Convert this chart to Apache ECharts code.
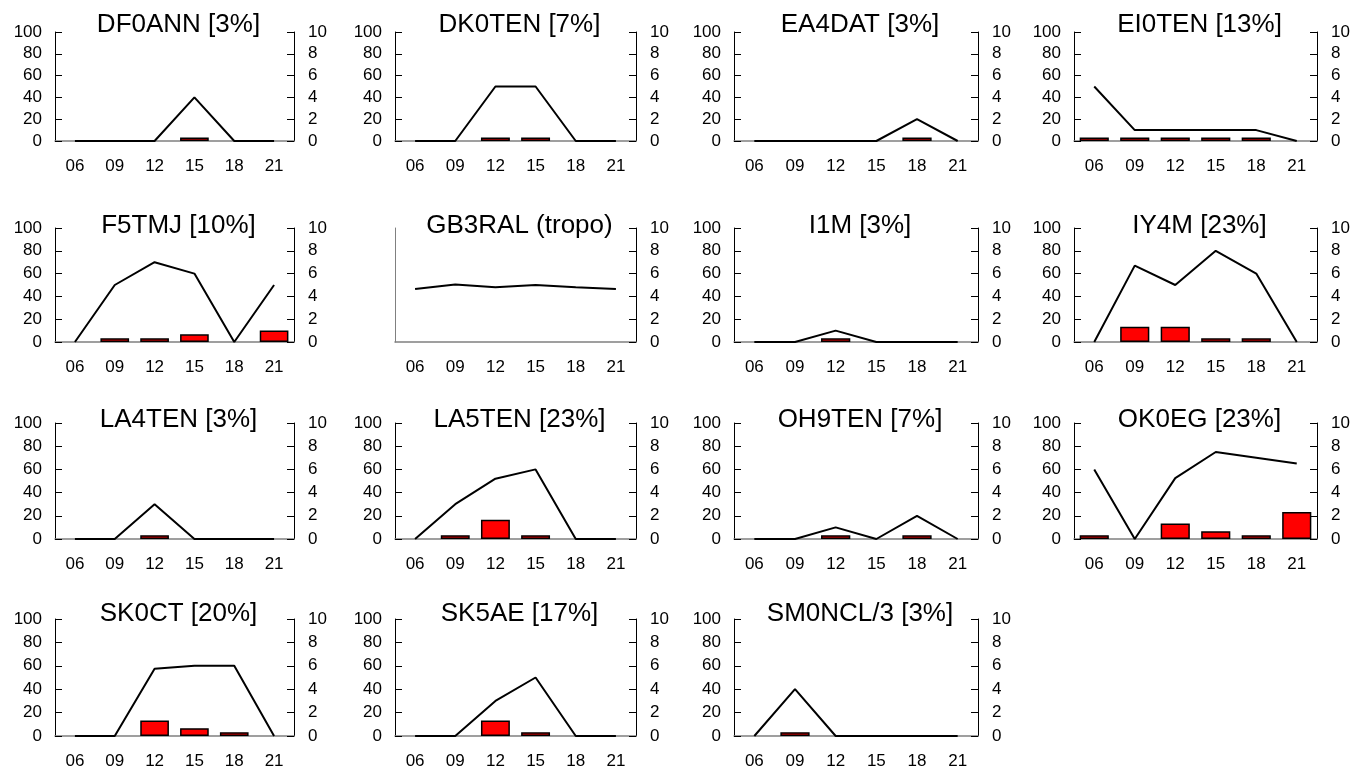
<!DOCTYPE html>
<html lang="en">
<head>
    <meta charset="utf-8">
    <title>Beacon spots by hour</title>
    <script src="https://cdn.jsdelivr.net/npm/echarts@6/dist/echarts.min.js"></script>
    <style>
        html, body { margin: 0; padding: 0; background: #fff; }
        #main { width: 1358px; height: 769px; }
    </style>
</head>
<body>
<div id="main"></div>

<script type="text/javascript">
    // hours on the x axis
    const hours = ['06', '09', '12', '15', '18', '21'];

    const titles = [
        'DF0ANN [3%]', 'DK0TEN [7%]', 'EA4DAT [3%]', 'EI0TEN [13%]',
        'F5TMJ [10%]', 'GB3RAL (tropo)', 'I1M [3%]', 'IY4M [23%]',
        'LA4TEN [3%]', 'LA5TEN [23%]', 'OH9TEN [7%]', 'OK0EG [23%]',
        'SK0CT [20%]', 'SK5AE [17%]', 'SM0NCL/3 [3%]'
    ];

    // red bars, left axis (0-100)
    const barPct = [
        [0, 0, 0, 3.3, 0, 0],
        [0, 0, 3.3, 3.3, 0, 0],
        [0, 0, 0, 0, 3.3, 0],
        [3.3, 3.3, 3.3, 3.3, 3.3, 0],
        [0, 3.3, 3.3, 6.7, 0, 10],
        [0, 0, 0, 0, 0, 0],
        [0, 0, 3.3, 0, 0, 0],
        [0, 13.3, 13.3, 3.3, 3.3, 0],
        [0, 0, 3.3, 0, 0, 0],
        [0, 3.3, 16.7, 3.3, 0, 0],
        [0, 0, 3.3, 0, 3.3, 0],
        [3.3, 0, 13.3, 6.7, 3.3, 23.3],
        [0, 0, 13.3, 6.7, 3.3, 0],
        [0, 0, 13.3, 3.3, 0, 0],
        [0, 3.3, 0, 0, 0, 0]
    ];

    // black line, right axis (0-10)
    const lineVal = [
        [0, 0, 0, 4, 0, 0],
        [0, 0, 5, 5, 0, 0],
        [0, 0, 0, 0, 2, 0],
        [5, 1, 1, 1, 1, 0],
        [0, 5, 7, 6, 0, 5],
        [4.65, 5.05, 4.8, 5.0, 4.8, 4.65],
        [0, 0, 1, 0, 0, 0],
        [0, 6.7, 5, 8, 6, 0],
        [0, 0, 3, 0, 0, 0],
        [0, 3, 5.2, 6, 0, 0],
        [0, 0, 1, 0, 2, 0],
        [6, 0, 5.25, 7.5, 7, 6.5],
        [0, 0, 5.75, 6, 6, 0],
        [0, 0, 3, 5, 0, 0],
        [0, 4, 0, 0, 0, 0]
    ];

    // panels without a left axis scale
    const noLeftScale = ['GB3RAL (tropo)'];

    // layout of the 4 x 4 panel grid
    const colLeft = [55, 395, 734, 1074];
    const colWidth = [239, 241, 244, 243];
    const rowTop = [32, 228, 423, 619];
    const rowHeight = [109, 114, 116, 117];
    const titleTop = [12, 213, 407, 601];

    const tickFont = { color: '#000', fontSize: 17, fontFamily: 'Liberation Sans, Arial, sans-serif' };

    function initChart() {
        let myChart = echarts.init(document.getElementById('main'), null, { renderer: 'canvas' });
        let grids = [], xAxes = [], yAxes = [], series = [], titleList = [];

        titles.forEach(function (name, i) {
            let col = i % 4, row = Math.floor(i / 4);
            let hideLeft = noLeftScale.indexOf(name) >= 0;

            grids.push({
                left: colLeft[col], top: rowTop[row],
                width: colWidth[col], height: rowHeight[row],
                containLabel: false, outerBoundsMode: 'none'
            });
            titleList.push({
                text: name,
                left: colLeft[col] + colWidth[col] / 2 + 4,
                top: titleTop[row],
                textAlign: 'center',
                padding: 0,
                textStyle: { color: '#000', fontSize: 26, fontWeight: 'normal', fontFamily: 'Liberation Sans, Arial, sans-serif' }
            });
            xAxes.push({
                type: 'category', gridIndex: i, data: hours, boundaryGap: true,
                axisLine: { show: true, lineStyle: { color: '#808080', width: 1.5 } },
                axisTick: { show: false },
                axisLabel: Object.assign({ margin: 17, interval: 0 }, tickFont),
                splitLine: { show: false }
            });
            yAxes.push({
                type: 'value', gridIndex: i, position: 'left', min: 0, max: 100, interval: 20,
                axisLine: { show: true, lineStyle: { color: hideLeft ? '#808080' : '#000', width: 1 } },
                axisTick: { show: !hideLeft, inside: true, length: 7, lineStyle: { color: '#000' } },
                axisLabel: Object.assign({ show: !hideLeft, margin: 13 }, tickFont),
                splitLine: { show: false }
            });
            yAxes.push({
                type: 'value', gridIndex: i, position: 'right', min: 0, max: 10, interval: 2,
                axisLine: { show: true, lineStyle: { color: '#000', width: 1 } },
                axisTick: { show: true, inside: true, length: 7, lineStyle: { color: '#000' } },
                axisLabel: Object.assign({ margin: 14 }, tickFont),
                splitLine: { show: false }
            });
            series.push({
                type: 'bar', xAxisIndex: i, yAxisIndex: 2 * i,
                data: barPct[i].map(function (v) { return v || '-'; }),
                barWidth: '72%', z: 2, silent: true,
                itemStyle: { color: '#ff0000', borderColor: '#000', borderWidth: 1.5 }
            });
            series.push({
                type: 'line', xAxisIndex: i, yAxisIndex: 2 * i + 1,
                data: lineVal[i], showSymbol: false, symbol: 'none', z: 3, silent: true,
                lineStyle: { color: '#000', width: 2 }
            });
        });

        const option = {
            backgroundColor: '#fff',
            animation: false,
            title: titleList,
            grid: grids,
            xAxis: xAxes,
            yAxis: yAxes,
            series: series
        };
        myChart.setOption(option);
    }

    initChart();
</script>
</body>
</html>
